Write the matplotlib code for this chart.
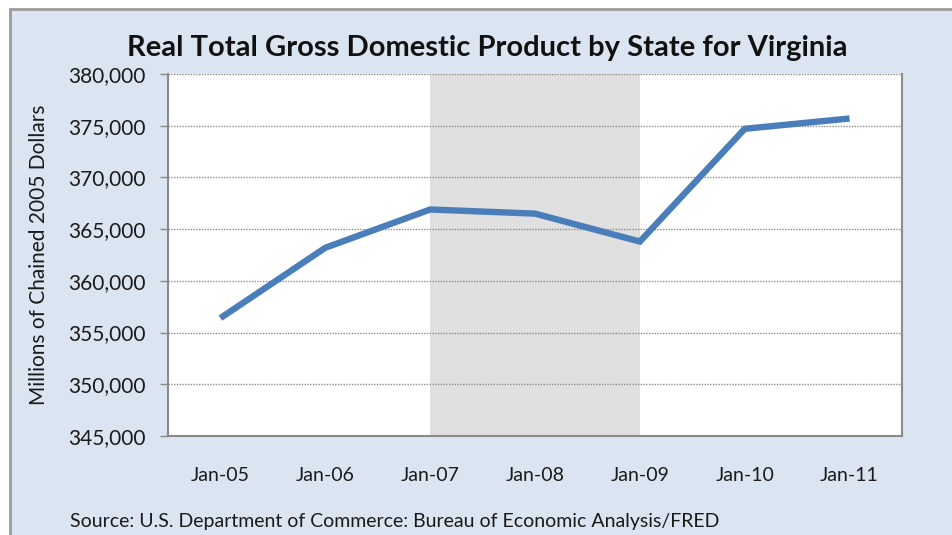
import matplotlib.pyplot as plt
from matplotlib.patches import Rectangle
from matplotlib.ticker import FuncFormatter

# Real GDP for Virginia, millions of chained 2005 dollars
dates = ["Jan-05", "Jan-06", "Jan-07", "Jan-08", "Jan-09", "Jan-10", "Jan-11"]
gdp = [356400, 363200, 366900, 366500, 363800, 374700, 375700]
recession = (2, 4)  # Jan-07 .. Jan-09

plt.rcParams['font.family'] = ['Lato', 'DejaVu Sans']

fig = plt.figure(figsize=(9.52, 5.35), dpi=100)
fig.patch.set_facecolor("white")

# chart-area frame (light blue with grey border, cut off at right/bottom)
fig.patches.append(Rectangle((10 / 952, -0.05), 1.0, 1 - 9 / 535 + 0.05,
                             transform=fig.transFigure, facecolor="#dbe5f1",
                             edgecolor="#9a9a9a", linewidth=2.0, zorder=-10))

ax = fig.add_axes([168 / 952, 99 / 535, (902 - 168) / 952, (436 - 74) / 535])
ax.set_facecolor("white")

x = range(len(dates))
ax.axvspan(recession[0], recession[1], color="#e0e0e0", zorder=0.5, lw=0)
ax.plot(x, gdp, color="#4a7ebb", linewidth=4.6, solid_capstyle="butt",
        solid_joinstyle="miter", zorder=3)

ax.set_xlim(-0.5, len(dates) - 0.5)
ax.set_ylim(345000, 380000)
ax.set_yticks(range(345000, 380001, 5000))
ax.yaxis.set_major_formatter(FuncFormatter(lambda v, p: f"{int(v):,}"))
ax.set_xticks(list(x))
ax.set_xticklabels(dates)

ax.grid(axis="y", color="#8c8c8c", linestyle=(0, (1, 1)), linewidth=1.0, zorder=1)
ax.set_axisbelow(True)

for side in ["left", "right", "bottom"]:
    ax.spines[side].set_color("#8a8a8a")
    ax.spines[side].set_linewidth(1.5)
ax.spines["top"].set_visible(False)

ax.tick_params(axis="y", length=6, width=1, color="#8a8a8a", labelsize=15,
               pad=10, labelcolor="#1a1a1a")
ax.tick_params(axis="x", length=0, labelsize=14, pad=22, labelcolor="#1a1a1a")

ax.set_ylabel("Millions of Chained 2005 Dollars", fontsize=15, color="#1a1a1a",
              labelpad=14)

fig.text(487 / 952, 1 - 48 / 535, "Real Total Gross Domestic Product by State for Virginia",
         ha="center", va="center", fontsize=21, fontweight="bold", color="#111111")
fig.text(70 / 952, 1 - 521 / 535,
         "Source: U.S. Department of Commerce: Bureau of Economic Analysis/FRED",
         ha="left", va="center", fontsize=14, color="#1a1a1a")

fig.savefig("out.png", dpi=100)
